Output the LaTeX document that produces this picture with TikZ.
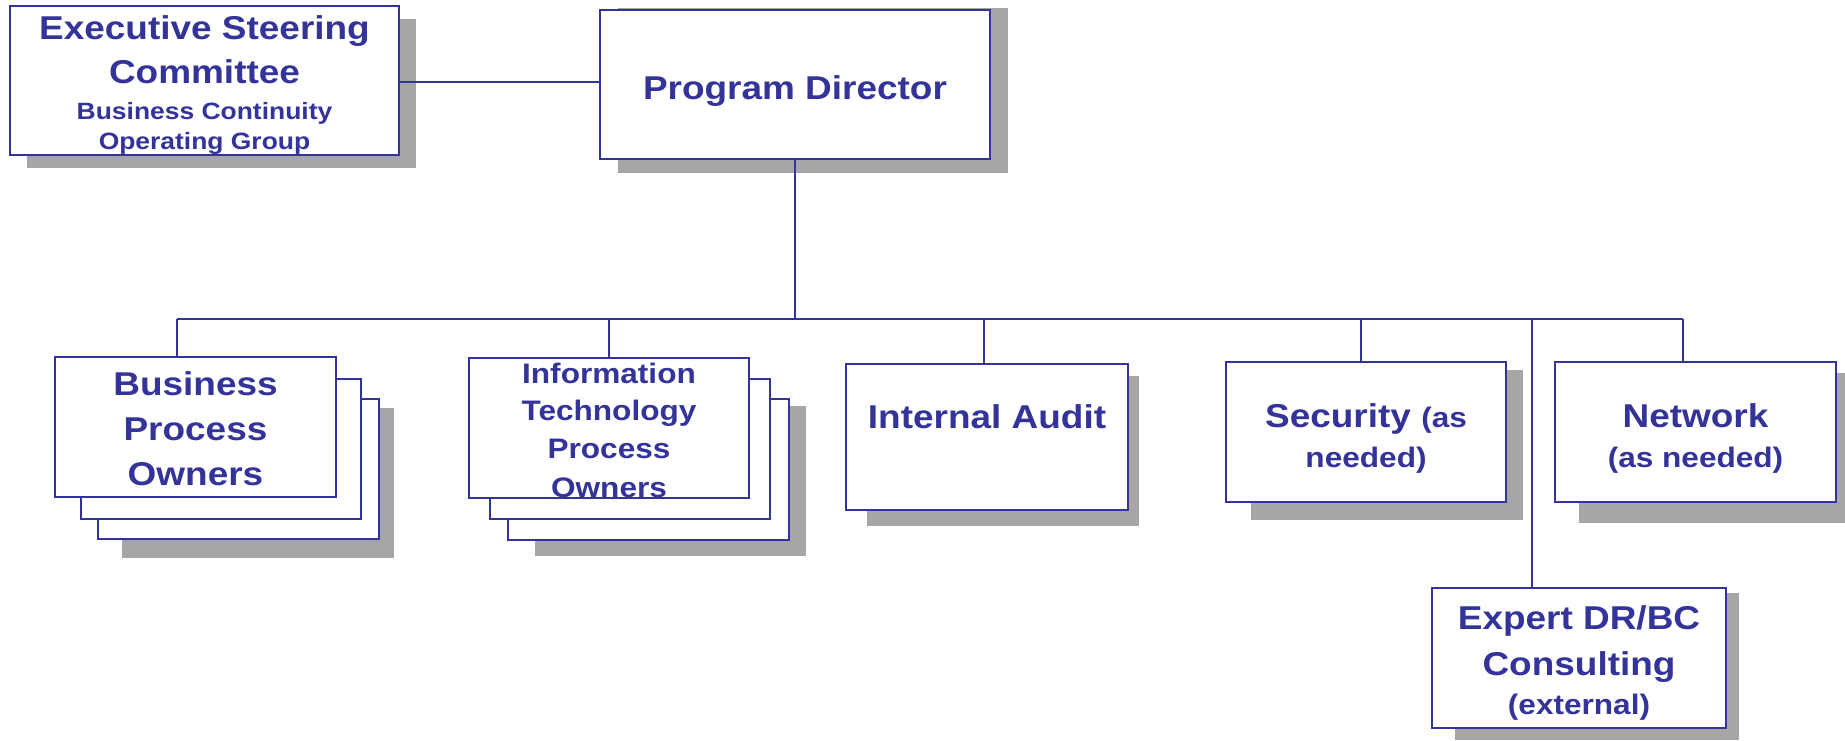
\documentclass[tikz,border=0pt]{standalone}
\usepackage{fontspec}
\setmainfont{Liberation Sans}[FakeStretch=1.12]
\usetikzlibrary{fit}
\definecolor{bl}{RGB}{51,51,153}
\definecolor{sh}{RGB}{166,166,166}
\begin{document}
\begin{tikzpicture}[x=0.5pt,y=-0.5pt,
  box/.style={draw=bl, line width=1pt, fill=white, inner sep=0pt, outer sep=0pt},
  shd/.style={fill=sh},
  conn/.style={draw=bl, line width=0.8pt},
  lbl/.style={text=bl, anchor=base, inner sep=0pt},
  big/.style={lbl, font=\bfseries\fontsize{16.5}{19}\selectfont},
  mid/.style={lbl, font=\bfseries\fontsize{14.1}{17}\selectfont},
  sml/.style={lbl, font=\bfseries\fontsize{11.8}{14}\selectfont}]
\useasboundingbox (0,0) rectangle (1845,740);
% shadows
\fill[shd] (27,19) rectangle (416,168);
\fill[shd] (618,8) rectangle (1008,173);
\fill[shd] (122,408) rectangle (394,558);
\fill[shd] (535,406) rectangle (806,556);
\fill[shd] (867,376) rectangle (1139,526);
\fill[shd] (1251,370) rectangle (1523,520);
\fill[shd] (1579,373) rectangle (1845,523);
\fill[shd] (1455,593) rectangle (1739,740);
% boxes
\node[box, fit={(10,6) (399,155)}] (exec) {};
\node[box, fit={(600,10) (990,159)}] (pd) {};
\node[box, fit={(98,399) (379,539)}] (bpo3) {};
\node[box, fit={(81,379) (361,519)}] (bpo2) {};
\node[box, fit={(55,357) (336,497)}] (bpo) {};
\node[box, fit={(508,399) (789,540)}] (itpo3) {};
\node[box, fit={(490,379) (770,519)}] (itpo2) {};
\node[box, fit={(469,358) (749,498)}] (itpo) {};
\node[box, fit={(846,364) (1128,510)}] (ia) {};
\node[box, fit={(1226,362) (1506,502)}] (sec) {};
\node[box, fit={(1555,362) (1836,502)}] (net) {};
\node[box, fit={(1432,588) (1726,728)}] (exp) {};
% connectors
\coordinate (ej) at (0,82);
\coordinate (busL) at (177,319);
\coordinate (busR) at (1683,319);
\coordinate (jia) at (984,319);
\coordinate (jsec) at (1361,319);
\coordinate (jexp) at (1532,319);
\draw[conn] (exec.east |- ej) -- (pd.west |- ej);
\draw[conn] (pd.south) -- (pd.south |- busL);
\draw[conn] (busL) -- (busR);
\draw[conn] (busL) -- (busL |- bpo.north);
\draw[conn] (itpo.north) -- (itpo.north |- busL);
\draw[conn] (jia) -- (jia |- ia.north);
\draw[conn] (jsec) -- (jsec |- sec.north);
\draw[conn] (busR) -- (busR |- net.north);
\draw[conn] (jexp) -- (jexp |- exp.north);
% texts
\node[big] (t1) at (204.5,39) {Executive Steering};
\node[big] (t2) at (204.5,83) {Committee};
\node[sml] (t3) at (204.5,119) {Business Continuity};
\node[sml] (t4) at (204.5,149) {Operating Group};
\node[big] (t5) at (795,99) {Program Director};
\node[big] (t6) at (195.5,395) {Business};
\node[big] (t7) at (195.5,440) {Process};
\node[big] (t8) at (195.5,485) {Owners};
\node[mid] (t9) at (609,383) {Information};
\node[mid] (t10) at (609,420) {Technology};
\node[mid] (t11) at (609,458) {Process};
\node[mid] (t12) at (609,497) {Owners};
\node[big] (t13) at (987,428) {Internal Audit};
\node[big] (t14) at (1366,427) {Security {\fontsize{14.1}{17}\selectfont(as}};
\node[mid] (t15) at (1366,467) {needed)};
\node[big] (t16) at (1695.5,427) {Network};
\node[mid] (t17) at (1695.5,467) {(as needed)};
\node[big] (t18) at (1579,629) {Expert DR/BC};
\node[big] (t19) at (1579,675) {Consulting};
\node[mid] (t20) at (1579,714) {(external)};
\end{tikzpicture}
\end{document}
